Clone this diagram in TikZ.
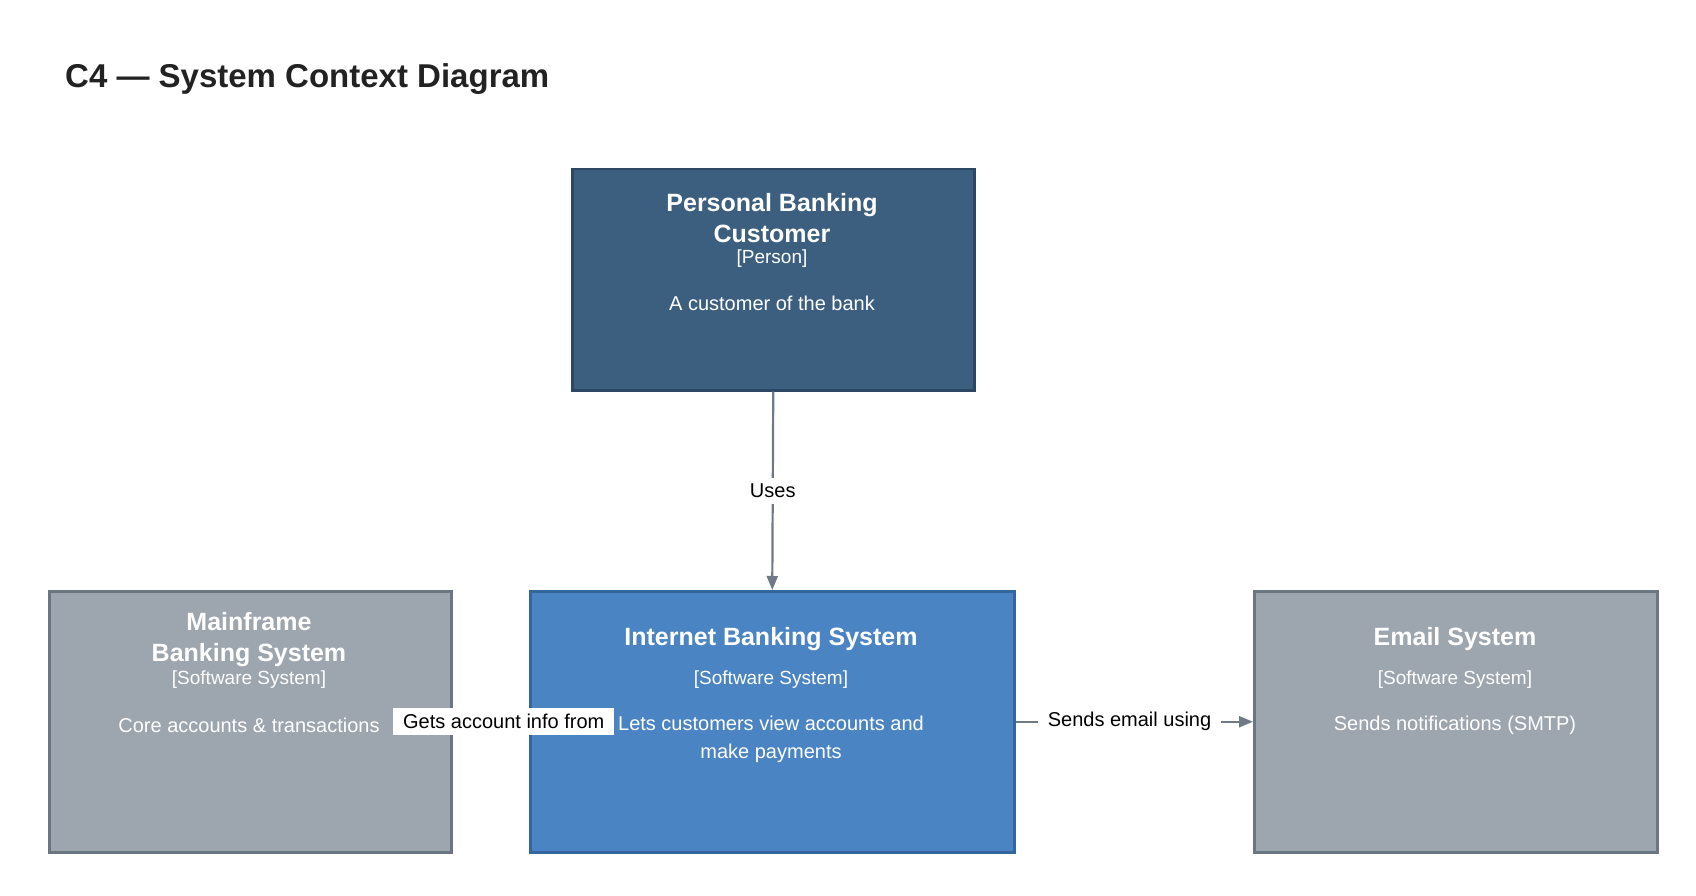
\documentclass[tikz,border=0pt]{standalone}
\usepackage{fontspec}
\setmainfont{Liberation Sans}
\usetikzlibrary{arrows.meta}
\definecolor{personfill}{HTML}{3C5F80}
\definecolor{personline}{HTML}{2B4764}
\definecolor{ibsfill}{HTML}{4A84C3}
\definecolor{ibsline}{HTML}{34669E}
\definecolor{extfill}{HTML}{9DA5AF}
\definecolor{extline}{HTML}{6C7682}
\definecolor{arrowc}{HTML}{707A86}
\definecolor{titlec}{HTML}{222222}
\tikzset{
  box/.style={draw, line width=2.5pt, minimum width=#1, inner sep=0pt, anchor=north west},
  ttl/.style={text=white, font=\fontsize{25}{31}\selectfont\bfseries, align=center, inner sep=0pt},
  sub/.style={text=white, font=\fontsize{19}{23}\selectfont, align=center, inner sep=0pt},
  desc/.style={text=white, font=\fontsize{20}{28}\selectfont, align=center, inner sep=0pt},
  conn/.style={draw=arrowc, line width=2.2pt, -{Triangle[length=14pt,width=11pt]}},
  lbl/.style={fill=white, text=black, font=\fontsize{20}{24}\selectfont, inner xsep=10pt, inner ysep=6pt}
}
\begin{document}
\begin{tikzpicture}[x=1pt,y=-1pt]
\useasboundingbox (0,0) rectangle (1696,896);
\node[anchor=west, text=titlec, font=\fontsize{33}{40}\selectfont\bfseries, inner sep=0pt] (title) at (65,79) {C4 — System Context Diagram};
% boxes
\node[box=402pt, minimum height=221pt, fill=personfill, draw=personline] (person) at (571,168) {};
\node[box=484pt, minimum height=261pt, fill=ibsfill, draw=ibsline] (ibs) at (529,590) {};
\node[box=402pt, minimum height=261pt, fill=extfill, draw=extline] (mf) at (48,590) {};
\node[box=403pt, minimum height=261pt, fill=extfill, draw=extline] (email) at (1253,590) {};
% texts
\node[ttl] (pt) at (772,218) {Personal Banking\\Customer};
\node[sub] (ps) at (772,259) {[Person]};
\node[desc] (pd) at (772,303) {A customer of the bank};
\node[ttl] (mt) at (249,640) {Mainframe\\Banking System};
\node[sub] (ms) at (249,680) {[Software System]};
\node[desc] (md) at (249,725) {Core accounts \& transactions};
\node[ttl] (it) at (771,639) {Internet Banking System};
\node[sub] (is) at (771,680) {[Software System]};
\node[desc] (id) at (771,739) {Lets customers view accounts and\\make payments};
\node[ttl] (et) at (1455,639) {Email System};
\node[sub] (es) at (1455,680) {[Software System]};
\node[desc] (ed) at (1455,725) {Sends notifications (SMTP)};
% connectors
\draw[conn] (person.south) -- node[lbl, pos=0.5] (l1) {Uses} (ibs.north);
\draw[conn] (ibs.west) -- node[lbl, pos=0.33] (l2) {Gets account info from} (mf.east);
\draw[conn] (ibs.east) -- node[lbl, pos=0.48] (l3) {Sends email using} (email.west);
\end{tikzpicture}
\end{document}
